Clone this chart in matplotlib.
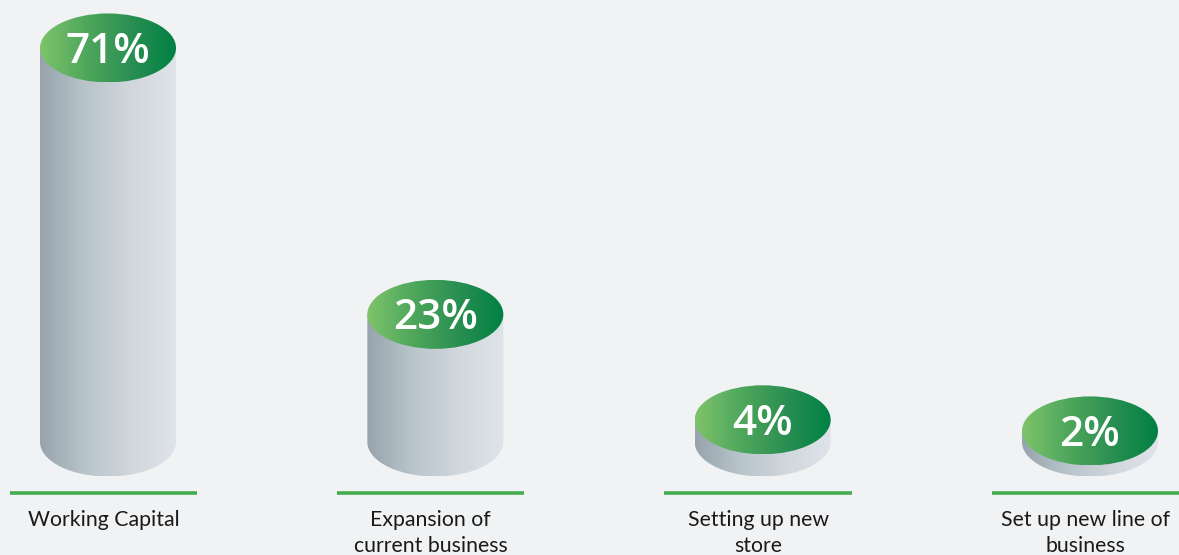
import numpy as np
import matplotlib
matplotlib.use("Agg")
import matplotlib.pyplot as plt
from matplotlib.colors import LinearSegmentedColormap
from matplotlib.patches import Ellipse, PathPatch
from matplotlib.path import Path

categories = ["Working Capital", "Expansion of\ncurrent business",
              "Setting up new\nstore", "Set up new line of\nbusiness"]
shares = [71, 23, 4, 2]
share_labels = ["71%", "23%", "4%", "2%"]

bg = "#f1f2f4"
body_cmap = LinearSegmentedColormap.from_list("body", ["#97a4ad", "#b9c4cb", "#d0d7dd", "#dfe4e9"])
top_cmap = LinearSegmentedColormap.from_list("top", ["#7ec46b", "#4fa75c", "#2a8f52", "#008043"])
line_green = "#43ad4e"

fig = plt.figure(figsize=(11.79, 5.55), dpi=100, facecolor=bg)
ax = fig.add_axes([0, 0, 1, 1])
ax.set_facecolor(bg)

# pixel layout -> data units
px_x = 327.33          # pixels per category step
px_y = 5.55            # pixels per percent
base_px = 113          # baseline height from bottom of figure
xlim = (-108 / px_x, 3 + (1179 - 1090) / px_x)
ylim = (-base_px / px_y, (555 - base_px) / px_y)

w = 136 / px_x         # cylinder width
eh = 69 / px_y         # ellipse height
grad = np.linspace(0, 1, 256).reshape(1, -1)

for i, (v, lab, cat) in enumerate(zip(shares, share_labels, categories)):
    x0, x1 = i - w / 2, i + w / 2
    # body: rectangle plus lower half of the base ellipse
    t = np.linspace(np.pi, 2 * np.pi, 60)
    arc = np.column_stack([i + w / 2 * np.cos(t), eh / 2 * np.sin(t)])
    verts = np.vstack([[x0, v], arc, [x1, v], [x0, v]])
    codes = [Path.MOVETO] + [Path.LINETO] * (len(verts) - 2) + [Path.CLOSEPOLY]
    body = PathPatch(Path(verts, codes), facecolor="none", edgecolor="none")
    ax.add_patch(body)
    im = ax.imshow(grad, cmap=body_cmap, aspect="auto",
                   extent=[x0, x1, -eh / 2, v], zorder=2)
    im.set_clip_path(body)

    # green top
    top = Ellipse((i, v), w, eh, facecolor="none", edgecolor="none")
    ax.add_patch(top)
    im2 = ax.imshow(grad, cmap=top_cmap, aspect="auto",
                    extent=[x0, x1, v - eh / 2, v + eh / 2], zorder=3)
    im2.set_clip_path(top)
    ax.text(i, v - 0.7, lab, ha="center", va="center", color="white",
            fontsize=30.5, fontfamily="Open Sans", fontweight="semibold", zorder=4)

    # base line and category label
    ax.plot([i - 0.3, i + 0.272], [-9.1, -9.1], color=line_green, lw=2.6,
            solid_capstyle="butt", zorder=2)
    ax.text(i - 0.014, -12.25, cat, ha="center", va="top", fontsize=15.3,
            fontfamily="Lato", color="#1a1a1a", linespacing=1.37)

ax.set_xlim(*xlim)
ax.set_ylim(*ylim)
ax.axis("off")

fig.savefig("out.png", dpi=100, facecolor=bg)
